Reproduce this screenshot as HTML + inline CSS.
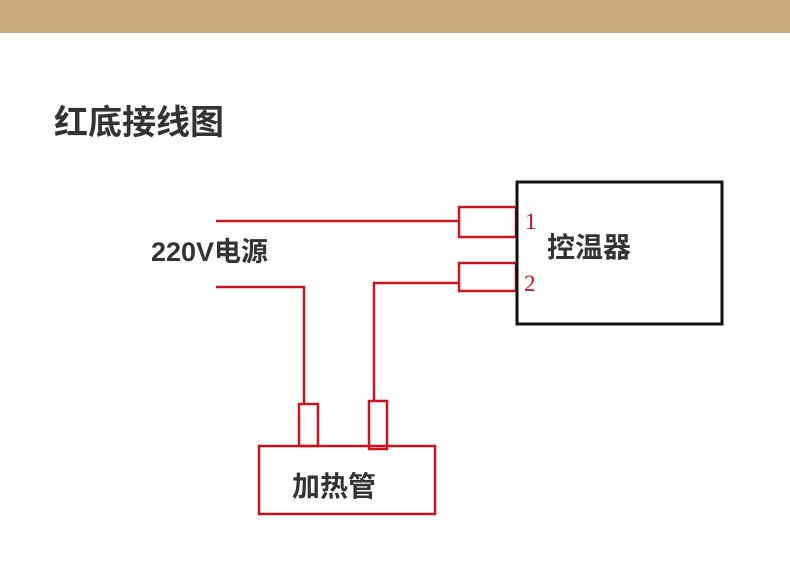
<!DOCTYPE html>
<html><head><meta charset="utf-8"><style>
body{margin:0;width:790px;height:574px;background:#fff;overflow:hidden;position:relative;font-family:"Liberation Sans","Noto Sans CJK SC",sans-serif}
.bar{position:absolute;left:0;top:0;width:790px;height:33px;background:#c9a77e}
.t{position:absolute;color:#333;white-space:nowrap;font-weight:bold}
</style></head><body>
<div class="bar"></div>
<div class="t" style="left:54px;top:95px;font-size:34px;color:#333">红底接线图</div>
<div class="t" style="left:151px;top:230px;font-size:27px;">220V电源</div>
<div class="t" style="left:547px;top:226px;font-size:28px;">控温器</div>
<div class="t" style="left:292px;top:465px;font-size:28px;">加热管</div>
<svg width="790" height="574" style="position:absolute;left:0;top:0">
<g fill="none" stroke="#c8141e" stroke-width="2.5">
<polyline points="216,221 459,221"/>
<rect x="459" y="207" width="57" height="30"/>
<rect x="459" y="263" width="57" height="28"/>
<polyline points="458,283 374,283 374,401"/>
<polyline points="216,287 304,287 304,404"/>
<rect x="299" y="404" width="19" height="42"/>
<rect x="369" y="401" width="18" height="48"/>
<rect x="259" y="446" width="176" height="68"/>
</g>
<rect x="517" y="182" width="205" height="142" fill="none" stroke="#111" stroke-width="3"/>
<text x="525" y="229" font-family="Liberation Serif,serif" font-size="23" fill="#c8141e">1</text>
<text x="524" y="291" font-family="Liberation Serif,serif" font-size="23" fill="#c8141e">2</text>
</svg>
</body></html>
